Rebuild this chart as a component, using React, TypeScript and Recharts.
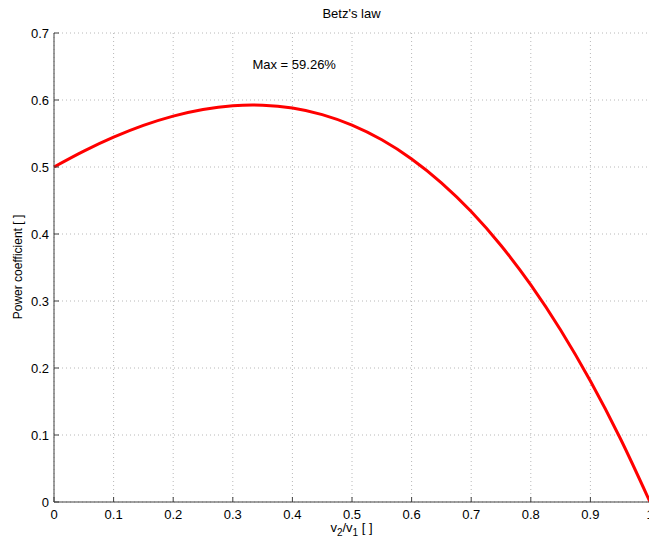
import { LineChart, Line, XAxis, YAxis, CartesianGrid, ReferenceDot } from "recharts"

// speed ratio v2/v1
const ratio = [0, 0.05, 0.1, 0.15, 0.2, 0.25, 0.3, 0.333, 0.35, 0.4, 0.45, 0.5, 0.55, 0.6, 0.65, 0.7, 0.75, 0.8, 0.85, 0.9, 0.95, 1]
// power coefficient
const powerCoef = [0.5, 0.5237, 0.5445, 0.5621, 0.576, 0.5859, 0.5915, 0.5926, 0.5923, 0.588, 0.5782, 0.5625, 0.5406, 0.512, 0.4764, 0.4335, 0.3828, 0.324, 0.2567, 0.1805, 0.0951, 0]

const xTicks = [0, 0.1, 0.2, 0.3, 0.4, 0.5, 0.6, 0.7, 0.8, 0.9, 1]
const yTicks = [0, 0.1, 0.2, 0.3, 0.4, 0.5, 0.6, 0.7]

const data = ratio.map((r, i) => ({ r, cp: powerCoef[i] }))

const font = "Arial, 'Liberation Sans', sans-serif"
const axisColor = "#404040"

const XTick = (props: any) => {
  const { x, y, payload } = props
  return (
    <g>
      <line x1={x} x2={x} y1={y} y2={y - 5} stroke={axisColor} />
      <text x={x} y={y + 17} textAnchor="middle" fontSize={13} fontFamily={font} fill="#000">
        {String(payload.value)}
      </text>
    </g>
  )
}

const YTick = (props: any) => {
  const { x, y, payload } = props
  return (
    <g>
      <line x1={x} x2={x + 5} y1={y} y2={y} stroke={axisColor} />
      <text x={x - 5} y={y + 5} textAnchor="end" fontSize={13} fontFamily={font} fill="#000">
        {String(payload.value)}
      </text>
    </g>
  )
}

const MaxLabel = (props: any) => {
  const { cx, cy } = props
  return (
    <text x={cx} y={cy} fontSize={13} fontFamily={font} fill="#000" dominantBaseline="middle">
      Max = 59.26%
    </text>
  )
}

export default function App() {
  return (
    <div style={{ position: "absolute", left: 0, top: 0, width: 649, height: 542, background: "#fff", overflow: "hidden", fontFamily: font }}>
      <div style={{ position: "absolute", left: 0, width: 703, top: 6, textAlign: "center", fontSize: 13 }}>
        Betz's law
      </div>
      <div style={{ position: "absolute", left: 54, width: 595, top: 520, textAlign: "center", fontSize: 13, lineHeight: "16px" }}>
        v<sub style={{ fontSize: 10, lineHeight: 0 }}>2</sub>/v<sub style={{ fontSize: 10, lineHeight: 0 }}>1</sub> [ ]
      </div>
      <div
        style={{
          position: "absolute",
          left: 18,
          top: 267,
          transform: "translate(-50%, -50%) rotate(-90deg)",
          whiteSpace: "nowrap",
          fontSize: 12,
        }}
      >
        Power coefficient [ ]
      </div>
      <LineChart width={650} height={542} data={data} margin={{ top: 33, right: 0, left: 0, bottom: 0 }}>
        <CartesianGrid stroke="#b8b8b8" strokeDasharray="1 3" verticalValues={xTicks} horizontalValues={yTicks} />
        <XAxis
          dataKey="r"
          type="number"
          domain={[0, 1]}
          ticks={xTicks}
          height={40}
          tickSize={0}
          tickMargin={0}
          tick={<XTick />}
          stroke={axisColor}
          interval={0}
        />
        <YAxis
          type="number"
          domain={[0, 0.7]}
          ticks={yTicks}
          width={54}
          tickSize={0}
          tickMargin={0}
          tick={<YTick />}
          stroke={axisColor}
          interval={0}
        />
        <Line type="monotone" dataKey="cp" stroke="#ff0000" strokeWidth={3} dot={false} isAnimationActive={false} />
        <ReferenceDot x={0.333} y={0.652} r={0} shape={<MaxLabel />} />
      </LineChart>
    </div>
  )
}
